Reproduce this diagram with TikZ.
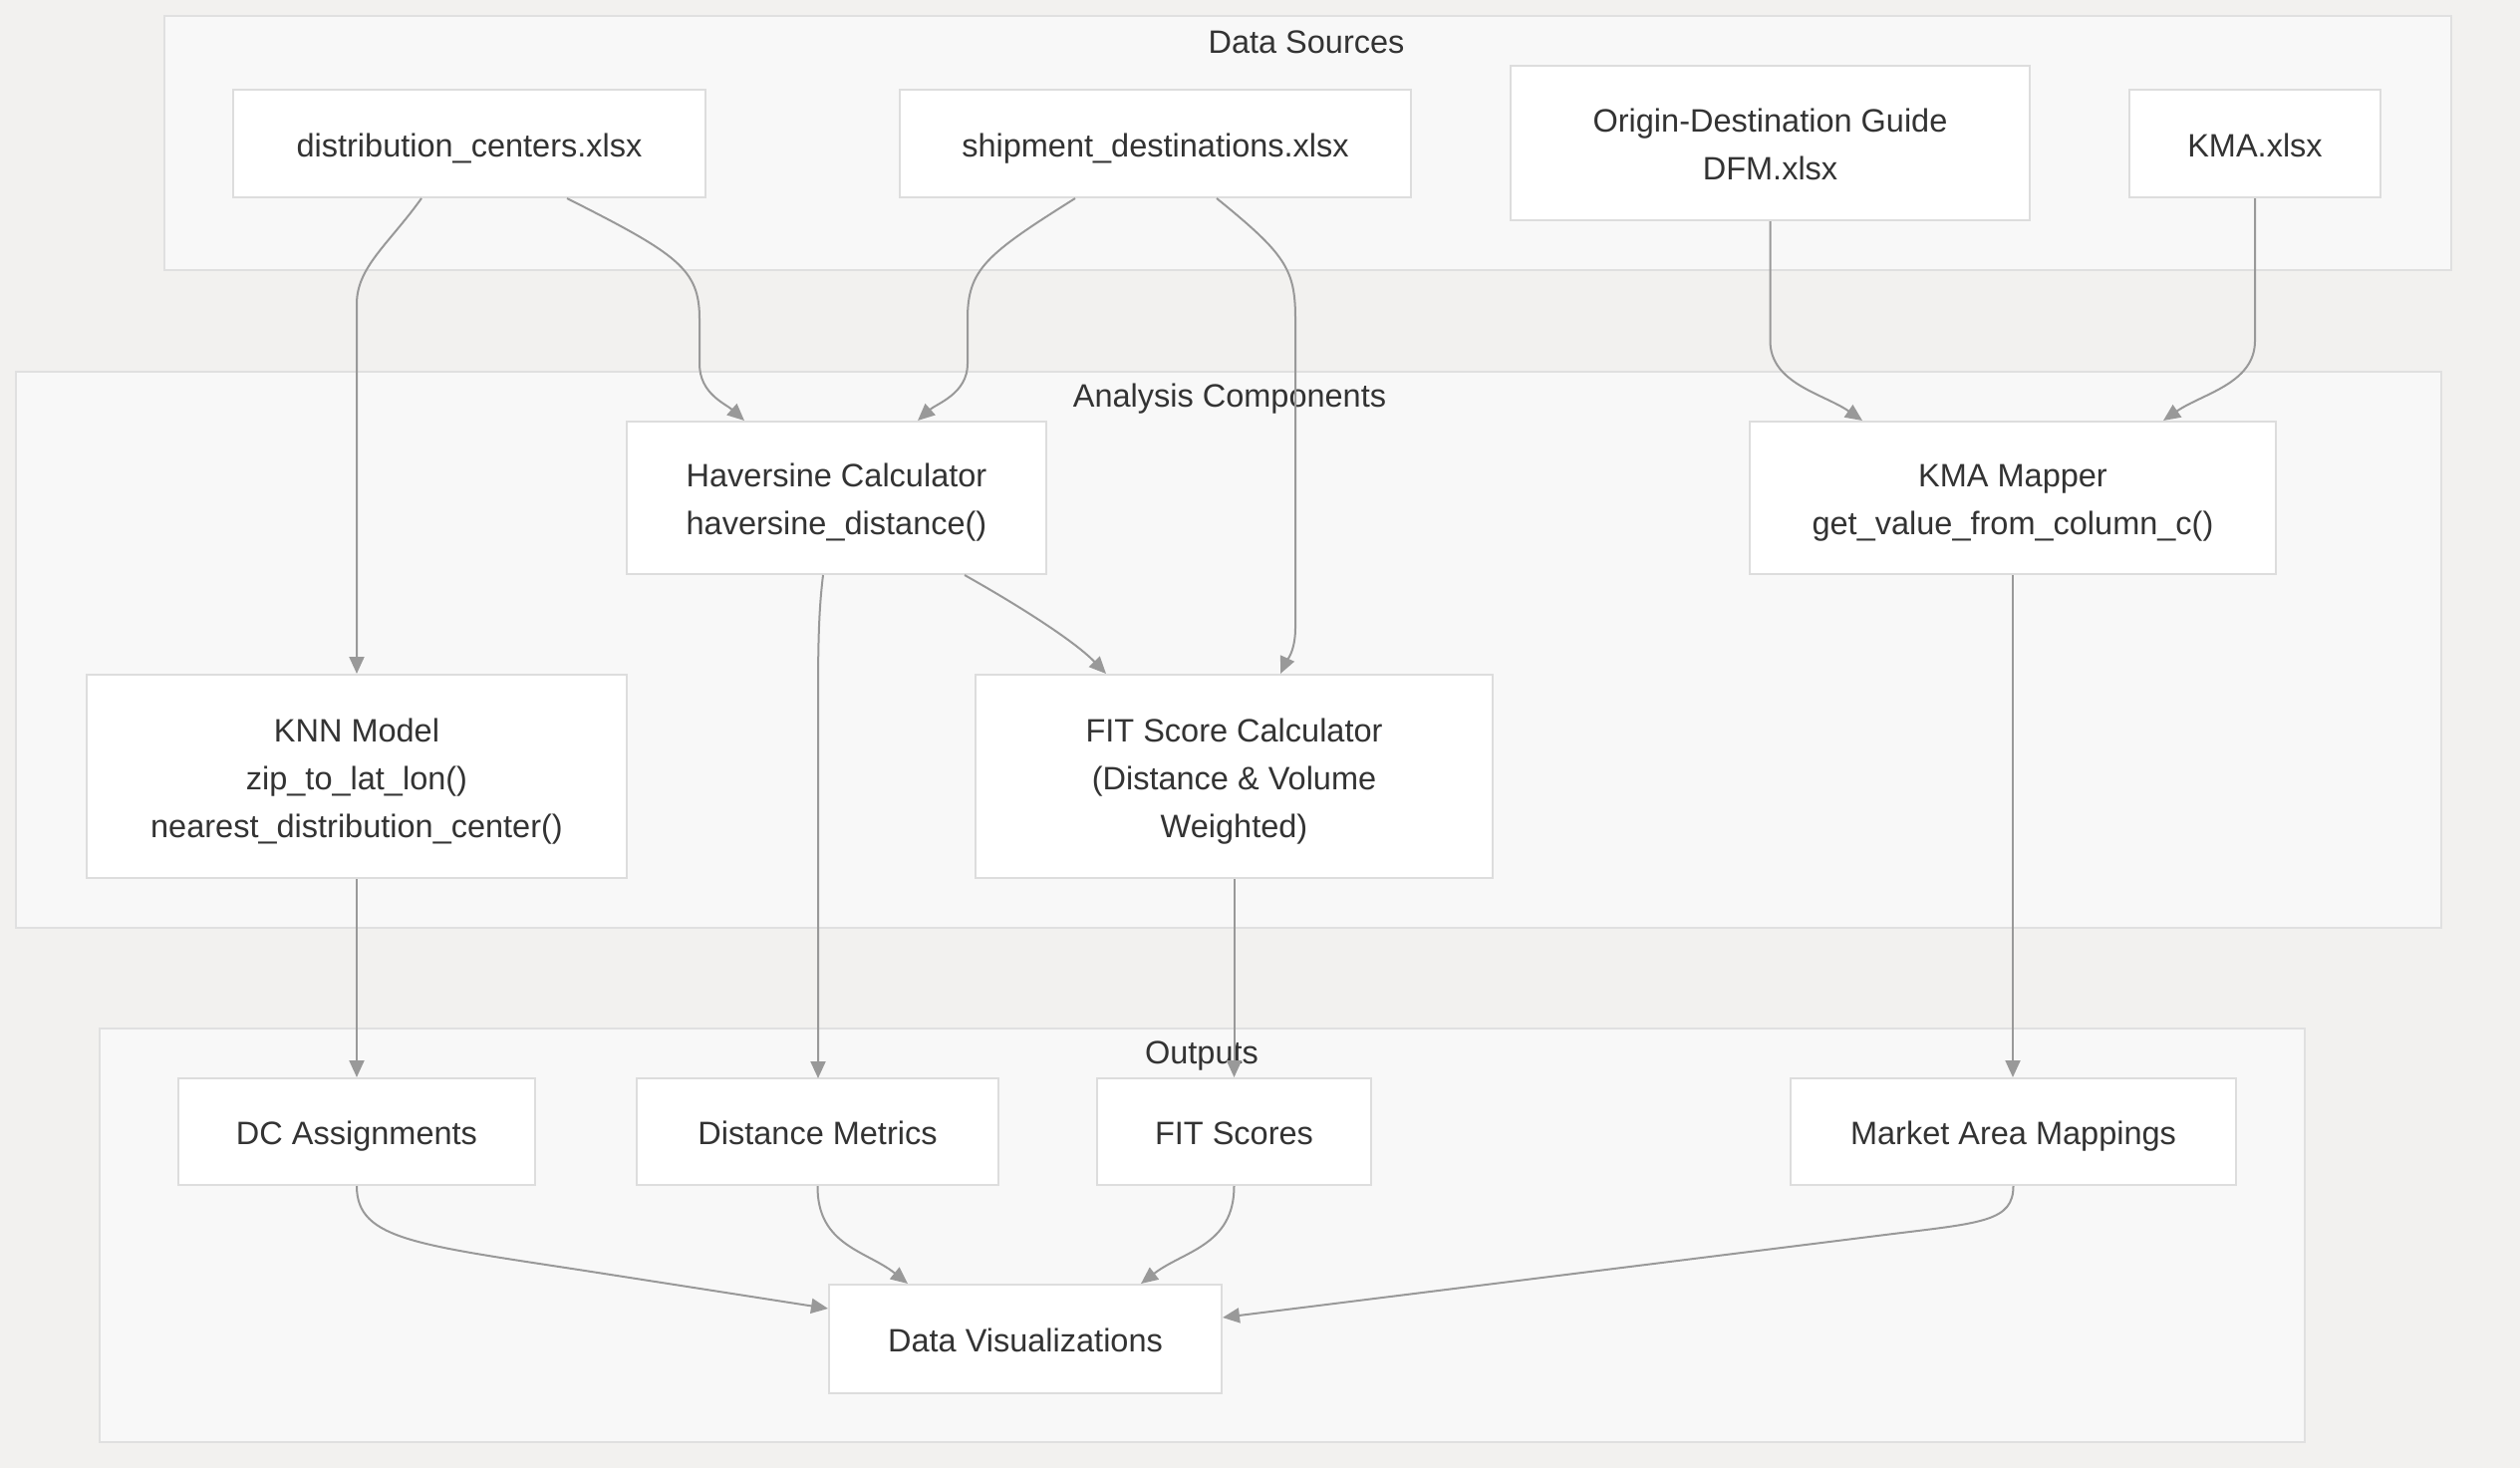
\documentclass[tikz,border=0pt]{standalone}
\usepackage{fontspec}
\setmainfont{Liberation Sans}
\usetikzlibrary{arrows.meta}
\definecolor{bgc}{HTML}{F2F1EF}
\definecolor{clfill}{HTML}{F8F8F8}
\definecolor{clline}{HTML}{E0E0E0}
\definecolor{ndline}{HTML}{DDDDDD}
\definecolor{txt}{HTML}{333333}
\definecolor{edgec}{HTML}{999999}
\newcommand{\topstrut}{\rule{0pt}{34pt}}
\newcommand{\botstrut}{\rule[-8pt]{0pt}{0pt}}
\begin{document}
\begin{tikzpicture}[x=1pt,y=-1pt,
  mbox/.style={draw=ndline, line width=2pt, fill=white, inner sep=0pt, align=center, text=txt, font=\fontsize{32.5}{48}\selectfont},
  box/.style={mbox, execute at begin node={\topstrut}, execute at end node={\botstrut}},
  cluster/.style={draw=clline, line width=2pt, fill=clfill},
  ttl/.style={text=txt, font=\fontsize{32.5}{48}\selectfont, inner sep=0pt},
  conn/.style={draw=edgec, line width=2pt, -{Triangle[length=17pt,width=15pt]}}]
% background / bounding box
\fill[bgc] (0,0) rectangle (2529,1473);
\useasboundingbox (0,0) rectangle (2529,1473);
% clusters
\path[cluster] (164.5,16) rectangle (2459.5,271);
\path[cluster] (16,373) rectangle (2450,931);
\path[cluster] (100,1032) rectangle (2313,1447);
\node[ttl] (tsrc) at (1311,42) {Data Sources};
\node[ttl] (tana) at (1234,400) {Analysis Components};
\node[ttl] (tout) at (1206,1060) {Outputs};
% nodes
\node[box, minimum width=474pt, minimum height=108pt] (dc) at (471,144) {distribution\_centers.xlsx};
\node[box, minimum width=513pt, minimum height=108pt] (ship) at (1159.5,144) {shipment\_destinations.xlsx};
\node[mbox, minimum width=521pt, minimum height=155pt] (origin) at (1776.5,143.5) {\topstrut Origin-Destination Guide\\DFM.xlsx\botstrut};
\node[box, minimum width=252pt, minimum height=108pt] (kma) at (2263,144) {KMA.xlsx};
\node[mbox, minimum width=421pt, minimum height=153pt] (hav) at (839.5,499.5) {\topstrut Haversine Calculator\\haversine\_distance()\botstrut};
\node[mbox, minimum width=528pt, minimum height=153pt] (mapper) at (2020,499.5) {\topstrut KMA Mapper\\get\_value\_from\_column\_c()\botstrut};
\node[mbox, minimum width=542pt, minimum height=204pt] (knn) at (358,779) {\topstrut KNN Model\\zip\_to\_lat\_lon()\\nearest\_distribution\_center()\botstrut};
\node[mbox, minimum width=519pt, minimum height=204pt] (fit) at (1238.5,779) {\topstrut FIT Score Calculator\\(Distance \& Volume\\Weighted)\botstrut};
\node[box, minimum width=358pt, minimum height=107pt] (dca) at (358,1135.5) {DC Assignments};
\node[box, minimum width=363pt, minimum height=107pt] (dm) at (820.5,1135.5) {Distance Metrics};
\node[box, minimum width=275pt, minimum height=107pt] (fs) at (1238.5,1135.5) {FIT Scores};
\node[box, minimum width=447pt, minimum height=107pt] (mam) at (2020.5,1135.5) {Market Area Mappings};
\node[box, minimum width=394pt, minimum height=109pt] (dv) at (1029,1343.5) {Data Visualizations};
% connectors
\draw[conn] ([xshift=-48pt]dc.south) .. controls (390,245) and (358,268) .. (358,305) -- (knn.north);
\draw[conn] ([xshift=98pt]dc.south) .. controls (680,255) and (702,270) .. (702,320) -- (702,365) .. controls (702,395) and (728,405) .. ([xshift=-92.5pt]hav.north);
\draw[conn] ([xshift=-80.5pt]ship.south) .. controls (990,255) and (971,270) .. (971,320) -- (971,365) .. controls (971,395) and (940,405) .. ([xshift=81.5pt]hav.north);
\draw[conn] ([xshift=61.5pt]ship.south) .. controls (1290,255) and (1300,270) .. (1300,320) -- (1300,630) .. controls (1300,655) and (1290,665) .. ([xshift=46.5pt]fit.north);
\draw[conn] (origin.south) -- (1776.5,342) .. controls (1776.5,385) and (1830,395) .. ([xshift=-151pt]mapper.north);
\draw[conn] (kma.south) -- (2263,342) .. controls (2263,385) and (2210,395) .. ([xshift=151pt]mapper.north);
\draw[conn] ([xshift=-13.5pt]hav.south) .. controls (822,610) and (821,640) .. (821,700) -- (821,1082);
\draw[conn] ([xshift=128.5pt]hav.south) .. controls (1030,612) and (1080,645) .. ([xshift=-128.5pt]fit.north);
\draw[conn] (fit.south) -- (fs.north);
\draw[conn] (knn.south) -- (dca.north);
\draw[conn] (mapper.south) -- (mapper.south |- mam.north);
\draw[conn] (dca.south) .. controls (358,1245) and (420,1249) .. (600,1277) -- ([yshift=30.5pt]dv.west);
\draw[conn] (dm.south) .. controls (820,1250) and (870,1255) .. ([xshift=-118pt]dv.north);
\draw[conn] (fs.south) .. controls (1238.5,1250) and (1188,1255) .. ([xshift=116pt]dv.north);
\draw[conn] (mam.south) .. controls (2020.5,1225) and (1990,1227) .. (1900,1238) -- ([yshift=21.5pt]dv.east);
\end{tikzpicture}
\end{document}
